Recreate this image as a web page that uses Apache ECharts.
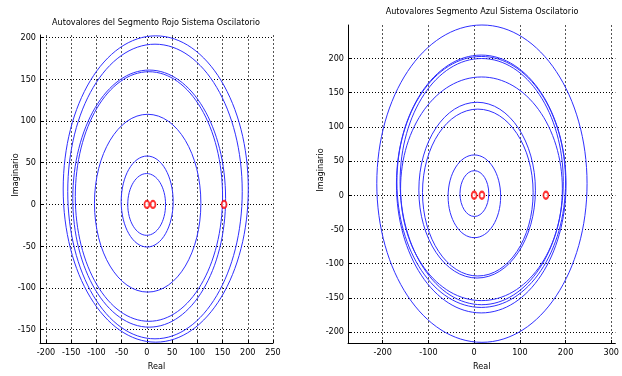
<!DOCTYPE html>
<html>
<head>
<meta charset="utf-8">
<script src="https://cdn.jsdelivr.net/npm/echarts@6/dist/echarts.min.js"></script>
<style>
    html, body { margin: 0; padding: 0; background: #fff; }
    #chart { width: 622px; height: 376px; }
</style>
</head>
<body>
<div id="chart"></div>
<script>
// Segmento Rojo (izquierda): bordes de cada lazo de autovalores
const rojoLeft = [-166, -157, -147, -142, -104, -51, -38];
const rojoRight = [201, 189, 156, 150, 107, 52, 37];
const rojoTop = [202, 192, 161, 159, 108, 58, 37];
const rojoBottom = [-165, -161, -147, -140, -105, -51, -37];
const rojoPolesX = [0, 12, 153];
const rojoPolesY = [0, 0, 0];
const rojoXTicks = [-200, -150, -100, -50, 0, 50, 100, 150, 200, 250];
const rojoYTicks = [-150, -100, -50, 0, 50, 100, 150, 200];

// Segmento Azul (derecha)
const azulLeft = [-213, -170, -169, -162, -161, -121, -113, -57, -31];
const azulRight = [247, 201, 200, 195, 193, 134, 129, 58, 32];
const azulTop = [249, 205, 203, 200, 173, 136, 126, 59, 36];
const azulBottom = [-215, -172, -164, -160, -154, -121, -118, -62, -31];
const azulPolesX = [0, 17, 157];
const azulPolesY = [0, 0, 0];
const azulXTicks = [-200, -100, 0, 100, 200, 300];
const azulYTicks = [-200, -150, -100, -50, 0, 50, 100, 150, 200];

const FONT = "'Liberation Sans Narrow', 'DejaVu Sans Condensed', 'Liberation Sans', sans-serif";
const LOOP_COLOR = "#3030ff";

function loops(left, right, top, bottom) {
    return left.map((l, i) => [l, right[i], top[i], bottom[i]]);
}

function poles(xs, ys) {
    return xs.map((x, i) => [x, ys[i]]);
}

// closed loop through the four read edges, drawn as four quarter arcs
function renderLoop(params, api) {
    const l = api.value(0), r = api.value(1), t = api.value(2), b = api.value(3);
    const cx = (l + r) / 2, cy = (t + b) / 2;
    const rx = (r - l) / 2, ry = (t - b) / 2;
    const k = 0.5523;
    const quarter = (sx, sy) => {
        const a = api.coord([cx + sx * rx, cy]);
        const c1 = api.coord([cx + sx * rx, cy + sy * k * ry]);
        const c2 = api.coord([cx + sx * k * rx, cy + sy * ry]);
        const e = api.coord([cx, cy + sy * ry]);
        return {
            type: "bezierCurve",
            shape: {
                x1: a[0], y1: a[1],
                cpx1: c1[0], cpy1: c1[1],
                cpx2: c2[0], cpy2: c2[1],
                x2: e[0], y2: e[1],
            },
            style: { stroke: LOOP_COLOR, lineWidth: 1, fill: null },
        };
    };
    return {
        type: "group",
        children: [quarter(1, 1), quarter(-1, 1), quarter(-1, -1), quarter(1, -1)],
    };
}

function xAxis(gridIndex, min, max, ticks) {
    return {
        type: "value",
        gridIndex,
        min,
        max,
        name: "Real",
        nameLocation: "middle",
        nameGap: 19,
        nameMoveOverlap: false,
        nameTextStyle: { color: "#000", fontSize: 9, fontFamily: FONT },
        axisLine: { onZero: false, lineStyle: { color: "#000", width: 1 } },
        axisTick: { inside: true, length: 3, customValues: ticks, lineStyle: { color: "#000" } },
        axisLabel: { customValues: ticks, color: "#000", fontSize: 9, fontFamily: FONT, margin: 5 },
        splitLine: { show: true, lineStyle: { color: "#555", type: [2, 2], width: 1 } },
    };
}

function yAxis(gridIndex, min, max, ticks, gap) {
    return {
        type: "value",
        gridIndex,
        min,
        max,
        name: "Imaginario",
        nameLocation: "middle",
        nameGap: gap,
        nameMoveOverlap: false,
        nameTextStyle: { color: "#000", fontSize: 9, fontFamily: FONT, padding: [0, 0, 0, 28] },
        axisLine: { onZero: false, lineStyle: { color: "#000", width: 1 } },
        axisTick: { inside: true, length: 3, customValues: ticks, lineStyle: { color: "#000" } },
        axisLabel: { customValues: ticks, color: "#000", fontSize: 9, fontFamily: FONT, margin: 4 },
        splitLine: { show: true, lineStyle: { color: "#000", type: [1, 2], width: 1 } },
    };
}

function poleSeries(idx, data) {
    return {
        type: "scatter",
        xAxisIndex: idx,
        yAxisIndex: idx,
        data,
        symbol: "emptyCircle",
        symbolSize: [5, 7],
        itemStyle: { color: "#ff0000", borderColor: "#ff0000", borderWidth: 1.5 },
        z: 5,
    };
}

const chart = echarts.init(document.getElementById("chart"));

chart.setOption({
    backgroundColor: "#fff",
    animation: false,
    title: [
        {
            text: "Autovalores del Segmento Rojo Sistema Oscilatorio",
            left: 156, top: 18, textAlign: "center", padding: 0,
            textStyle: { color: "#000", fontSize: 9, fontWeight: "normal", fontFamily: FONT },
        },
        {
            text: "Autovalores Segmento Azul Sistema Oscilatorio",
            left: 482, top: 7, textAlign: "center", padding: 0,
            textStyle: { color: "#000", fontSize: 9, fontWeight: "normal", fontFamily: FONT },
        },
    ],
    grid: [
        { left: 40, top: 35, width: 233, height: 311 },
        { left: 348, top: 25, width: 268, height: 319 },
    ],
    xAxis: [
        xAxis(0, -212, 250, rojoXTicks),
        xAxis(1, -276, 309, azulXTicks),
    ],
    yAxis: [
        yAxis(0, -166, 203, rojoYTicks, 20),
        yAxis(1, -216, 249, azulYTicks, 23),
    ],
    series: [
        {
            type: "custom",
            xAxisIndex: 0,
            yAxisIndex: 0,
            renderItem: renderLoop,
            encode: { x: [0, 1], y: [2, 3] },
            data: loops(rojoLeft, rojoRight, rojoTop, rojoBottom),
            silent: true,
        },
        poleSeries(0, poles(rojoPolesX, rojoPolesY)),
        {
            type: "custom",
            xAxisIndex: 1,
            yAxisIndex: 1,
            renderItem: renderLoop,
            encode: { x: [0, 1], y: [2, 3] },
            data: loops(azulLeft, azulRight, azulTop, azulBottom),
            silent: true,
        },
        poleSeries(1, poles(azulPolesX, azulPolesY)),
    ],
});

window.addEventListener("resize", () => chart.resize());
</script>
</body>
</html>
